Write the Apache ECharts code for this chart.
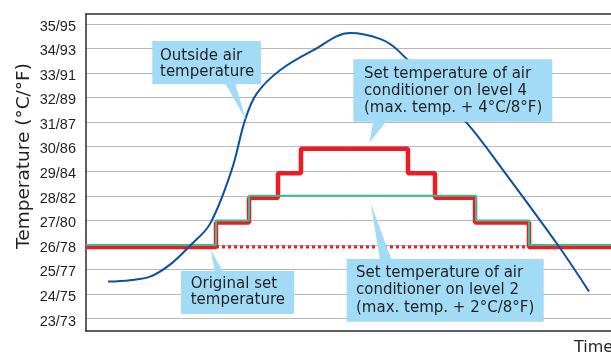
<!DOCTYPE html>
<html>
<head>
<meta charset="utf-8">
<script src="https://cdn.jsdelivr.net/npm/echarts@6/dist/echarts.min.js"></script>
<style>
html,body{margin:0;padding:0;background:#fff;}
#c{width:611px;height:355px;}
</style>
</head>
<body>
<div id="c"></div>
<script>
// ---- data (x = relative time, 0..100 across the plot) ----
var tickValues = [23, 24, 25, 26, 27, 28, 29, 30, 31, 32, 33, 34, 35];
var tickLabels = ['23/73', '24/75', '25/77', '26/78', '27/80', '28/82', '29/84', '30/86', '31/87', '32/89', '33/91', '34/93', '35/95'];

var blueTimes = [4.19, 8.38, 12.19, 16.00, 19.81, 23.62, 27.75, 30.29, 32.51, 36.95, 43.24, 50.29, 56.00, 59.43, 72.57, 79.43, 89.71, 95.81];
var blueTemps = [24.51, 24.57, 24.71, 25.20, 25.97, 26.86, 29.05, 31.08, 32.16, 33.11, 33.92, 34.63, 34.39, 33.92, 30.96, 29.05, 26.05, 24.11];

var level4Times = [0, 24.76, 31.05, 36.57, 40.95, 61.33, 66.48, 74.10, 84.38, 100];
var level4Temps = [26, 27, 28, 29, 30, 29, 28, 27, 26, 26];

var level2Times = [0, 24.76, 31.05, 74.29, 84.38, 100];
var level2Temps = [26, 27, 28, 27, 26, 26];

var originalTimes = [24.76, 100];
var originalTemps = [26, 26];

function zip(a, b) { return a.map(function (v, i) { return [v, b[i]]; }); }

var FONT = '"DejaVu Sans", sans-serif';
var TXT = '#231f20';
var BOX = '#a2dbf5';

function callout(rect, tri, tx, ty, lh, text) {
  return [
    { type: 'rect', z: 100, shape: { x: rect[0], y: rect[1], width: rect[2], height: rect[3] }, style: { fill: BOX } },
    { type: 'polygon', z: 100, shape: { points: tri }, style: { fill: BOX } },
    { type: 'text', z: 101, x: tx, y: ty, style: { text: text, font: '15px ' + FONT, fill: TXT, lineHeight: lh, align: 'left', verticalAlign: 'top', textAlign: 'left', textVerticalAlign: 'top' } }
  ];
}

var elements = []
  .concat(callout([152.3, 41, 108.7, 43.3], [[225, 83], [235, 83], [246, 120]], 160, 47.7, 16, 'Outside air\ntemperature'))
  .concat(callout([353.3, 59.3, 199, 62.4], [[373.3, 121], [386.7, 121], [369.3, 142.7]], 364, 65.3, 17, 'Set temperature of air\nconditioner on level 4\n(max. temp. + 4°C/8°F)'))
  .concat(callout([181, 271, 113, 43], [[215, 272], [223.3, 272], [210.7, 250]], 190.7, 276.6, 16, 'Original set\ntemperature'))
  .concat(callout([346.7, 259, 197, 62.7], [[380, 260], [391.7, 260], [370.7, 203.3]], 356, 264.3, 17.5, 'Set temperature of air\nconditioner on level 2\n(max. temp. + 2°C/8°F)'))
  .concat([
    { type: 'text', z: 101, x: 24.3, y: 156, rotation: Math.PI / 2, style: { text: 'Temperature (°C/°F)', font: '18.5px ' + FONT, fill: TXT, align: 'center', verticalAlign: 'middle', textAlign: 'center', textVerticalAlign: 'middle' } },
    { type: 'text', z: 101, x: 574, y: 347.8, style: { text: 'Time', font: '16px ' + FONT, fill: TXT, align: 'left', verticalAlign: 'middle', textAlign: 'left', textVerticalAlign: 'middle' } }
  ]);

var chart = echarts.init(document.getElementById('c'), null, { renderer: 'canvas' });
chart.setOption({
  animation: false,
  backgroundColor: '#fff',
  grid: { left: 86, right: 0, top: 14, bottom: 24, containLabel: false },
  xAxis: [
    { type: 'value', min: 0, max: 100, position: 'bottom',
      axisLine: { show: true, lineStyle: { color: '#2b2b2b', width: 1.5 } },
      axisTick: { show: false }, axisLabel: { show: false }, splitLine: { show: false } },
    { type: 'value', min: 0, max: 100, position: 'top',
      axisLine: { show: true, lineStyle: { color: '#2b2b2b', width: 1.5 } },
      axisTick: { show: false }, axisLabel: { show: false }, splitLine: { show: false } }
  ],
  yAxis: [
    { type: 'value', min: 22.5, max: 35.4, interval: 0.5,
      axisLine: { show: true, lineStyle: { color: '#2b2b2b', width: 1.5 } },
      axisTick: { show: false },
      axisLabel: {
        margin: 10, color: TXT, fontSize: 14.5, fontFamily: '"Liberation Sans", Arial, sans-serif',
        verticalAlign: 'top', lineHeight: 5.6,
        formatter: function (v) {
          var r = Math.round(v);
          if (Math.abs(v - r) > 1e-6) return '';
          var i = tickValues.indexOf(r);
          return i >= 0 ? tickLabels[i] : '';
        }
      },
      splitLine: { show: true, lineStyle: { color: ['rgba(0,0,0,0)', '#b8b8b8'], width: 1 } }
    },
    { type: 'value', min: 22.58, max: 35.48, show: false, splitLine: { show: false } }
  ],
  graphic: { elements: elements },
  series: [
    { name: 'original', type: 'line', xAxisIndex: 0, yAxisIndex: 1, z: 1,
      data: zip(originalTimes, originalTemps), showSymbol: false, silent: true,
      lineStyle: { color: '#ed1c24', width: 3, type: [3, 3] } },
    { name: 'level4', type: 'line', xAxisIndex: 0, yAxisIndex: 1, z: 2, step: 'end',
      data: zip(level4Times, level4Temps), showSymbol: false, silent: true,
      lineStyle: { color: '#ed1c24', width: 4.5 } },
    { name: 'level2', type: 'line', xAxisIndex: 0, yAxisIndex: 0, z: 3, step: 'end',
      data: zip(level2Times, level2Temps), showSymbol: false, silent: true,
      lineStyle: { color: '#3dbb8d', width: 2 } },
    { name: 'outside', type: 'line', xAxisIndex: 0, yAxisIndex: 0, z: 4, smooth: 0.35,
      data: zip(blueTimes, blueTemps), showSymbol: false, silent: true,
      lineStyle: { color: '#0d4fa0', width: 2 } }
  ]
});
</script>
</body>
</html>
